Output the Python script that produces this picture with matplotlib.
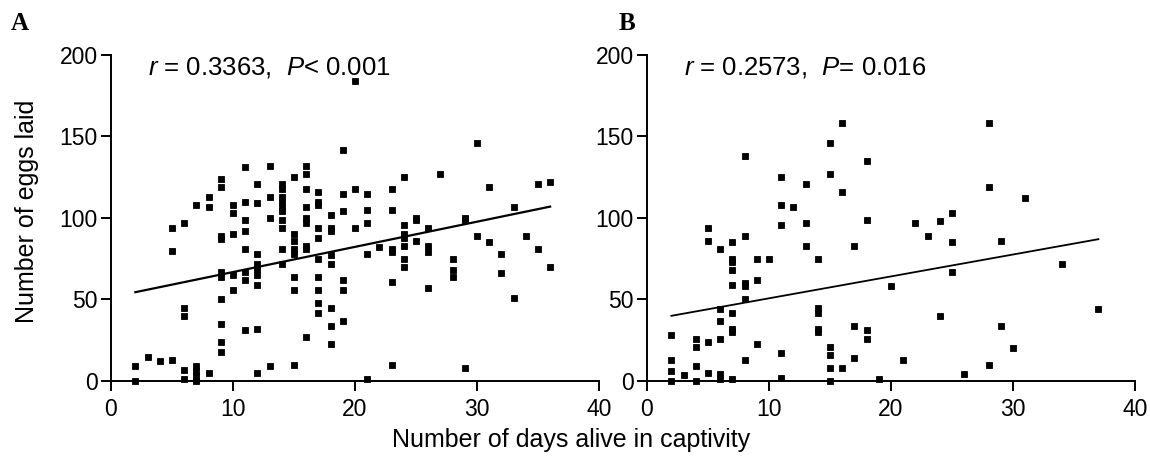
import matplotlib

matplotlib.use("Agg")
import matplotlib.pyplot as plt
import numpy as np

plt.rcParams["font.family"] = ["Liberation Sans", "DejaVu Sans"]
plt.rcParams["mathtext.fontset"] = "custom"
plt.rcParams["mathtext.it"] = "Liberation Sans:italic"
plt.rcParams["mathtext.rm"] = "Liberation Sans"

# panel A: days alive (x) and eggs laid (y), one list per day
days_a = {
    2: [9, 0], 3: [15], 4: [12], 5: [13, 94, 80],
    6: [97, 45, 40, 7, 1], 7: [9, 6, 3, 0, 108], 8: [113, 107, 5],
    9: [124, 119, 89, 87, 67, 64, 50, 35, 24, 18],
    10: [108, 103, 90, 65, 56],
    11: [131, 110, 99, 92, 81, 67, 62, 31],
    12: [121, 109, 78, 72, 69, 65, 59, 32, 5],
    13: [132, 113, 100, 9],
    14: [121, 118, 113, 110, 107, 104, 99, 94, 81, 72],
    15: [125, 90, 86, 81, 78, 64, 56, 10],
    16: [132, 127, 118, 107, 100, 97, 83, 81, 27],
    17: [116, 110, 108, 94, 88, 75, 64, 56, 48, 42],
    18: [102, 94, 92, 77, 72, 45, 34, 23],
    19: [142, 115, 104, 62, 56, 37],
    20: [184, 118, 94], 21: [115, 105, 97, 78, 1], 22: [82],
    23: [118, 105, 81, 79, 61, 10],
    24: [125, 96, 90, 88, 83, 75, 70],
    25: [100, 99, 86], 26: [94, 83, 79, 57], 27: [127],
    28: [75, 68, 64], 29: [100, 99, 8], 30: [146, 89],
    31: [119, 85], 32: [78, 66], 33: [107, 51], 34: [89],
    35: [121, 81], 36: [122, 70],
}

# panel B
days_b = {
    2: [28, 13, 6, 0], 3: [3.5], 4: [26, 21, 9, 0],
    5: [94, 86, 24, 5], 6: [81, 44, 37, 26, 4, 1],
    7: [85, 75, 73, 68, 59, 42, 32, 30, 1],
    8: [138, 89, 60, 58, 50, 13], 9: [75, 62, 23], 10: [75],
    11: [125, 108, 96, 17, 2], 12: [107], 13: [121, 97, 83],
    14: [75, 45, 42, 32, 30], 15: [146, 127, 21, 16, 8, 0],
    16: [158, 116, 8], 17: [83, 34, 14], 18: [135, 99, 31, 26],
    19: [1], 20: [58], 21: [13], 22: [97], 23: [89], 24: [98, 40],
    25: [103, 85, 67], 26: [4], 28: [158, 119, 10], 29: [86, 34],
    30: [20], 31: [112], 34: [72], 37: [44],
}

# regression lines: (slope, intercept, x start, x end)
fit_a = (1.544, 51.4, 2, 36)
fit_b = (1.343, 37.3, 2, 37)

labels_stats = ["$r$ = 0.3363,  $P$< 0.001", "$r$ = 0.2573,  $P$= 0.016"]
panel_letters = ["A", "B"]
x_ticks = [0, 10, 20, 30, 40]
y_ticks = [0, 50, 100, 150, 200]


def _flatten(groups):
    xs, ys = [], []
    for day, eggs in groups.items():
        xs.extend([day] * len(eggs))
        ys.extend(eggs)
    return np.array(xs, dtype=float), np.array(ys, dtype=float)


fig = plt.figure(figsize=(11.5, 4.66), dpi=100)
ax_a = fig.add_axes([0.0965, 0.1824, 0.4243, 0.6996])
ax_b = fig.add_axes([0.5626, 0.1824, 0.4243, 0.6996])

for ax, groups, fit, stat, lw in [
    (ax_a, days_a, fit_a, labels_stats[0], 1.6),
    (ax_b, days_b, fit_b, labels_stats[1], 1.3),
]:
    xs, ys = _flatten(groups)
    ax.plot(xs, ys, "s", color="black", markersize=4.4, markeredgewidth=0.6,
            markeredgecolor="black", clip_on=False, zorder=3)
    slope, intercept, x0, x1 = fit
    fx = np.array([x0, x1], dtype=float)
    ax.plot(fx, slope * fx + intercept, color="black", linewidth=lw)

    ax.set_xlim(0, 40)
    ax.set_ylim(0, 200)
    ax.set_xticks(x_ticks)
    ax.set_yticks(y_ticks)
    ax.spines["top"].set_visible(False)
    ax.spines["right"].set_visible(False)
    for side in ("left", "bottom"):
        ax.spines[side].set_linewidth(1.4)
    ax.tick_params(direction="out", length=7.5, width=1.4, labelsize=16.5)
    ax.tick_params(axis="y", pad=2)
    ax.tick_params(axis="x", pad=5)
    ax.text(0.076, 0.963, stat, transform=ax.transAxes, fontsize=18.5,
            ha="left", va="center")

fig.text(0.0235, 0.547, "Number of eggs laid", fontsize=18, rotation=90,
         ha="center", va="center")
fig.text(0.009, 0.950, panel_letters[0], fontsize=18, fontweight="bold",
         family="Liberation Serif", va="center")
fig.text(0.538, 0.950, panel_letters[1], fontsize=18, fontweight="bold",
         family="Liberation Serif", va="center")
fig.text(0.4965, 0.056, "Number of days alive in captivity", fontsize=18,
         ha="center", va="center")

fig.savefig("out.png", dpi=100)
